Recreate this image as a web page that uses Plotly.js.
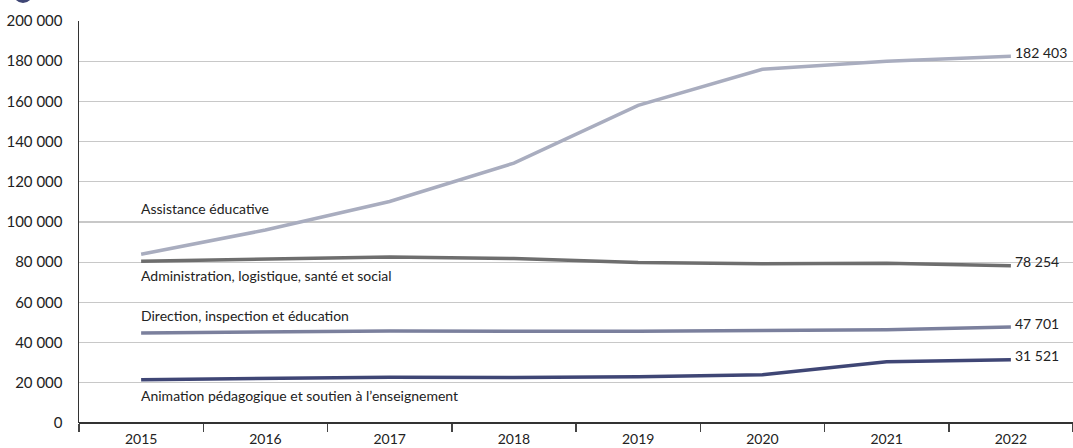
<!DOCTYPE html>
<html>
<head>
<meta charset="utf-8">
<script src="https://cdn.plot.ly/plotly-3.0.1.min.js"></script>
<style>
html,body{margin:0;padding:0;background:#fff;}
#chart{width:1073px;height:448px;}
</style>
</head>
<body>
<div id="chart"></div>
<script>
const years = ['2015','2016','2017','2018','2019','2020','2021','2022'];
const assistance = [84000, 96000, 110200, 129300, 158000, 176000, 180000, 182403];
const administration = [80500, 81500, 82600, 81800, 79800, 79200, 79500, 78254];
const direction = [44800, 45200, 45800, 45700, 45600, 46000, 46400, 47701];
const animation = [21500, 22300, 22800, 22600, 23000, 24000, 30500, 31521];
const seriesNames = ['Assistance éducative', 'Administration, logistique, santé et social', 'Direction, inspection et éducation', 'Animation pédagogique et soutien à l’enseignement'];
const yTickVals = [0, 20000, 40000, 60000, 80000, 100000, 120000, 140000, 160000, 180000, 200000];
const yTickText = ['0', '20 000', '40 000', '60 000', '80 000', '100 000', '120 000', '140 000', '160 000', '180 000', '200 000'];
const endLabels = ['182 403', '78 254', '47 701', '31 521'];

const colors = ['#a9adbf', '#6e6e6e', '#7b809d', '#3f4675'];
const allSeries = [assistance, administration, direction, animation];

const traces = allSeries.map((s, i) => ({
  type: 'scatter', mode: 'lines', x: years, y: s, name: seriesNames[i],
  line: {color: colors[i], width: 3.5}, hoverinfo: 'skip'
}));

const fam = 'Lato, Open Sans, sans-serif';
const font = {family: fam, size: 14, color: '#222'};
const yfont = {family: fam, size: 15, color: '#222'};
const xfont = {family: fam, size: 14, color: '#222'};

const nameY = [106600, 73300, 53400, 13700];
const annotations = [];
seriesNames.forEach((n, i) => {
  annotations.push({x: 0, y: nameY[i], xref: 'x', yref: 'y', text: n, showarrow: false,
    xanchor: 'left', yanchor: 'middle', xshift: -2, font: font});
});
allSeries.forEach((s, i) => {
  annotations.push({x: 7, y: s[s.length - 1], xref: 'x', yref: 'y', text: endLabels[i], showarrow: false,
    xanchor: 'left', yanchor: 'middle', xshift: 2, yshift: 4, font: font});
});

const layout = {
  width: 1073, height: 448,
  margin: {l: 79, r: 0, t: 21, b: 24.5},
  paper_bgcolor: '#fff', plot_bgcolor: '#fff',
  showlegend: false,
  font: font,
  xaxis: {
    type: 'category', range: [-0.5, 7.5], tickson: 'boundaries',
    ticks: 'outside', ticklen: 8, tickwidth: 1.5, tickcolor: '#444',
    showgrid: false, showline: false, zeroline: false,
    ticklabelstandoff: 6,
    tickfont: xfont, fixedrange: true
  },
  yaxis: {
    range: [0, 200000], tickvals: yTickVals, ticktext: yTickText,
    showgrid: true, gridcolor: '#c8c8c8', gridwidth: 1.2,
    zeroline: true, zerolinecolor: '#333', zerolinewidth: 2,
    showline: true, linecolor: '#333', linewidth: 1.5,
    ticks: '', ticklabelstandoff: 12, tickfont: yfont, fixedrange: true
  },
  annotations: annotations,
  shapes: [{
    type: 'circle', xref: 'paper', yref: 'paper',
    x0: (13 - 79) / 994, x1: (33 - 79) / 994,
    y0: (423.5 - 3) / 402.5, y1: (423.5 + 17) / 402.5,
    fillcolor: '#3f4675', line: {width: 0}
  }]
};

Plotly.newPlot('chart', traces, layout, {displayModeBar: false, staticPlot: true});
</script>
</body>
</html>
